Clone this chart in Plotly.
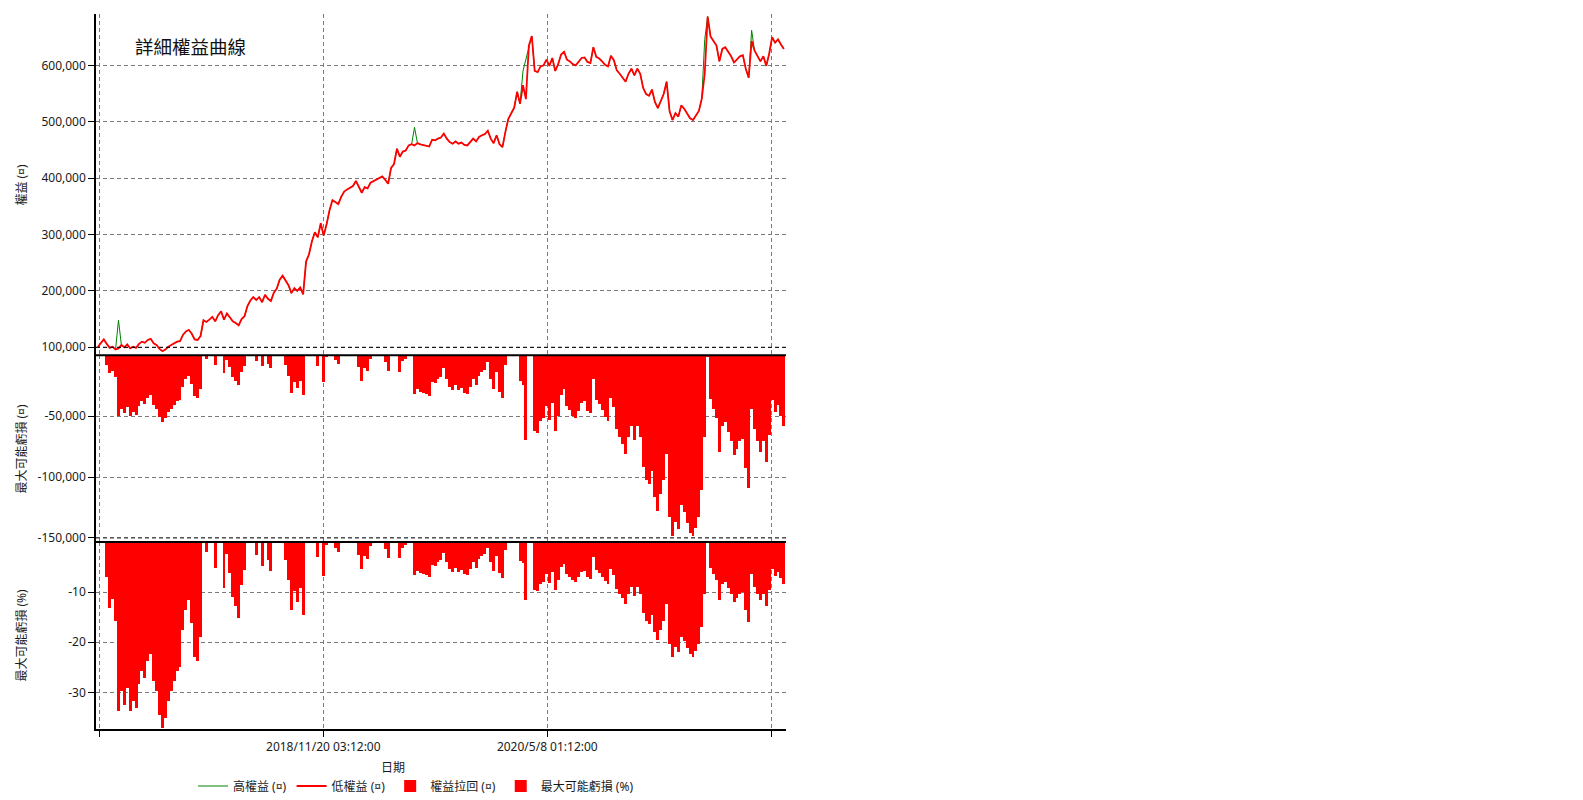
import numpy as np
import pandas as pd
import plotly.graph_objects as go
from plotly.subplots import make_subplots

# ---------------- data (equity in thousands, weekly samples) ----------------
start_date = "2017-05-31"
eq_low_k = [
    101, 108, 114, 106, 99, 101, 96, 98, 104, 100,
    105, 98, 101, 99, 106, 110, 108, 113, 115, 107,
    104, 97, 93, 96, 101, 104, 107, 110, 111, 122,
    128, 131, 124, 114, 113, 120, 148, 145, 149, 154,
    146, 157, 164, 149, 160, 154, 146, 143, 139, 150,
    155, 173, 183, 189, 184, 189, 180, 193, 186, 182,
    197, 204, 220, 227, 219, 210, 196, 205, 200, 206,
    194, 252, 265, 288, 304, 295, 320, 298, 318, 343,
    361, 357, 354, 367, 376, 380, 383, 386, 395, 385,
    374, 384, 382, 392, 395, 397, 400, 403, 397, 390,
    418, 425, 452, 438, 447, 449, 458, 460, 458, 462,
    460, 459, 458, 456, 468, 467, 470, 472, 479, 470,
    464, 461, 465, 461, 463, 459, 458, 464, 470, 465,
    473, 476, 478, 484, 470, 462, 476, 460, 455, 482,
    505, 515, 525, 553, 532, 565, 540, 635, 652, 590,
    588, 598, 600, 610, 599, 613, 590, 602, 619, 624,
    610, 607, 602, 600, 606, 613, 614, 606, 604, 632,
    615, 612, 607, 601, 598, 617, 609, 591, 585, 579,
    571, 585, 594, 582, 594, 585, 560, 549, 546, 557,
    535, 524, 538, 549, 571, 519, 503, 515, 509, 529,
    523, 514, 506, 503, 510, 519, 541, 585, 686, 651,
    643, 635, 607, 629, 632, 624, 616, 605, 610, 616,
    618, 594, 578, 643, 626, 616, 607, 616, 599, 621,
    650, 640, 646, 637, 629,
]
# weeks where the high equity pokes above the low equity line (thousands)
high_spike_idx = [7, 108, 145, 146, 207, 208, 223]
high_spike_k = [148, 490, 590, 610, 646, 687, 662]

eq_ticks = [100000, 200000, 300000, 400000, 500000, 600000]
dd_ticks = [-50000, -100000, -150000]
ddp_ticks = [-10, -20, -30]
date_tick_1 = "2018-11-20 03:12:00"
date_tick_2 = "2020-05-08 01:12:00"
date_labels = ["", "2018/11/20 03:12:00", "2020/5/8 01:12:00", ""]

title_text = "詳細權益曲線"
names = ["高權益 (¤)", "低權益 (¤)", "權益拉回 (¤)", "最大可能虧損 (%)"]
ytitles = ["權益 (¤)", "最大可能虧損 (¤)", "最大可能虧損 (%)"]
xtitle = "日期"

# ---------------- derived series ----------------
dates = pd.date_range(start_date, periods=len(eq_low_k), freq="7D")
eq_low = np.array(eq_low_k, dtype=float) * 1000.0
eq_high = eq_low.copy()
for i, v in zip(high_spike_idx, high_spike_k):
    eq_high[i] = max(eq_high[i], v * 1000.0)
peak = np.maximum.accumulate(eq_high)
dd = eq_low - peak
ddp = dd / peak * 100.0

t1 = pd.Timestamp(date_tick_1)
t2 = pd.Timestamp(date_tick_2)
step = t2 - t1
tickvals = [t1 - step, t1, t2, t2 + step]
x_range = [t1 - step * (227.3 / 224.0), t2 + step * (238.7 / 224.0)]

FONT = "Noto Sans, Noto Sans CJK TC, sans-serif"
TXT = "#1a1a1a"
GRID = "#7a7a7a"

fig = make_subplots(rows=3, cols=1, shared_xaxes=True, vertical_spacing=0)

fig.add_trace(go.Scatter(x=dates, y=eq_high, mode="lines", name=names[0],
                         line=dict(color="#008000", width=1)), row=1, col=1)
fig.add_trace(go.Scatter(x=dates, y=eq_low, mode="lines", name=names[1],
                         line=dict(color="#ff0000", width=1.8)), row=1, col=1)
fig.add_trace(go.Bar(x=dates, y=dd, name=names[2], marker=dict(color="#ff0000", line=dict(width=0))),
              row=2, col=1)
fig.add_trace(go.Bar(x=dates, y=ddp, name=names[3], marker=dict(color="#ff0000", line=dict(width=0))),
              row=3, col=1)

H = 715.0
dom_top = [(729 - 355.3) / H, 1.0]
dom_mid = [(729 - 542.0) / H, (729 - 355.3) / H]
dom_bot = [0.0, (729 - 542.0) / H]

xcommon = dict(range=x_range, tickvals=tickvals, showgrid=True, gridcolor=GRID,
               griddash="4px,3px", gridwidth=1, zeroline=False, type="date", automargin=False)
for k in ["xaxis", "xaxis2"]:
    fig.layout[k].update(**xcommon, showticklabels=False, ticks="", showline=False)
fig.layout["xaxis3"].update(**xcommon, ticktext=date_labels, showticklabels=True,
                            ticks="outside", ticklen=6, tickcolor="#000",
                            showline=True, linecolor="#000", linewidth=1.5,
                            tickfont=dict(size=12, color=TXT, family=FONT))

ycommon = dict(showgrid=True, gridcolor=GRID, griddash="4px,3px", gridwidth=1,
               zeroline=False, showline=True, linecolor="#000", linewidth=1.5,
               ticks="outside", ticklen=6, tickcolor="#000", automargin=False,
               tickfont=dict(size=12, color=TXT, family=FONT))
fig.layout["yaxis"].update(**ycommon, domain=dom_top, range=[85800, 691000],
                           tickvals=eq_ticks, ticktext=[f"{v:,}" for v in eq_ticks])
fig.layout["yaxis2"].update(**ycommon, domain=dom_mid, range=[-153300, 0],
                            tickvals=dd_ticks, ticktext=[f"{v:,}" for v in dd_ticks])
fig.layout["yaxis3"].update(**ycommon, domain=dom_bot, range=[-37.3, 0],
                            tickvals=ddp_ticks, ticktext=[f"{v}" for v in ddp_ticks])

annotations = [
    dict(text=title_text, xref="paper", yref="paper", x=(133 - 96) / 690.0, y=(729 - 46.7) / H,
         xanchor="left", yanchor="middle", showarrow=False,
         font=dict(size=18.5, color="#111", family=FONT)),
    dict(text=xtitle, xref="paper", yref="paper", x=(393 - 96) / 690.0, y=(729 - 767.7) / H,
         xanchor="center", yanchor="middle", showarrow=False,
         font=dict(size=12, color=TXT, family=FONT)),
]
for t, yc in zip(ytitles, [184.6, 448.6, 635.6]):
    annotations.append(dict(text=t, xref="paper", yref="paper", x=(22 - 96) / 690.0, y=(729 - yc) / H,
                            xanchor="center", yanchor="middle", textangle=-90, showarrow=False,
                            font=dict(size=12, color=TXT, family=FONT)))

shapes = [
    dict(type="line", xref="paper", yref="paper", x0=0, x1=1, y0=dom_mid[1], y1=dom_mid[1],
         line=dict(color="#000", width=2)),
    dict(type="line", xref="paper", yref="paper", x0=0, x1=1, y0=dom_bot[1], y1=dom_bot[1],
         line=dict(color="#000", width=2)),
    dict(type="line", xref="paper", yref="y", x0=0, x1=1, y0=100000, y1=100000,
         line=dict(color="#000", width=1, dash="4px,3px")),
    dict(type="line", xref="paper", yref="y2", x0=0, x1=1, y0=-150000, y1=-150000,
         line=dict(color="#333", width=1, dash="4px,3px")),
]

# page body has an 8px default margin, so the figure is offset by 8px
fig.update_layout(
    template="none",
    width=1575, height=792,
    margin=dict(l=88, r=797, t=6, b=71, autoexpand=False),
    paper_bgcolor="#ffffff", plot_bgcolor="#ffffff",
    bargap=0, barmode="overlay",
    font=dict(family=FONT, size=12, color=TXT),
    showlegend=True,
    legend=dict(orientation="h", x=(416 - 96) / 690.0, y=(729 - 786) / H,
                xanchor="center", yanchor="middle", itemwidth=30,
                font=dict(size=12, color=TXT, family=FONT), bgcolor="rgba(0,0,0,0)",
                tracegroupgap=0),
    annotations=annotations,
    shapes=shapes,
)

fig.write_html("out.html")
